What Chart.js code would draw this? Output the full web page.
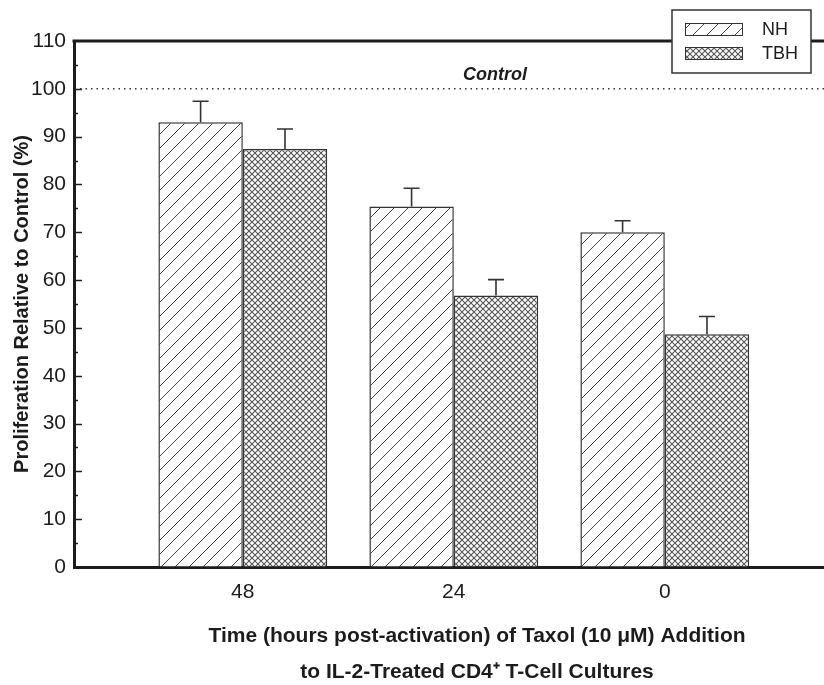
<!DOCTYPE html>
<html>
<head>
<meta charset="utf-8">
<title>Proliferation relative to control</title>
<script src="https://cdn.jsdelivr.net/npm/chart.js@4.4.0/dist/chart.umd.min.js"></script>
<style>
  html, body { margin: 0; padding: 0; background: #fff; overflow: hidden; }
  #wrap { width: 824px; height: 685px; overflow: hidden; }
</style>
</head>
<body>
<div id="wrap"><canvas id="chart" width="900" height="685"></canvas></div>
<script>
// Time (hours post-activation) of Taxol addition
const timepoints = ['48', '24', '0'];
// Proliferation relative to control (%), mean and upper error
const nhValues = [93.0, 75.4, 70.0];
const nhErrors = [4.4, 3.8, 2.4];
const tbhValues = [87.4, 56.8, 48.7];
const tbhErrors = [4.2, 3.3, 3.7];
const seriesNames = ['NH', 'TBH'];
const yTickValues = [0, 10, 20, 30, 40, 50, 60, 70, 80, 90, 100, 110];
const controlLevel = 100;

const FONT = "'Liberation Sans', Arial, Helvetica, sans-serif";
const INK = '#1c1c1c';

const canvas = document.getElementById('chart');
const ctx = canvas.getContext('2d');

// hatch fills
function makePattern(size, draw) {
    const c = document.createElement('canvas');
    c.width = size;
    c.height = size;
    const g = c.getContext('2d');
    g.fillStyle = '#fff';
    g.fillRect(0, 0, size, size);
    draw(g, size);
    return ctx.createPattern(c, 'repeat');
}

const diagonal = makePattern(14, function (g, s) {
    g.strokeStyle = '#444';
    g.lineWidth = 1;
    g.beginPath();
    g.moveTo(0, s); g.lineTo(s, 0);
    g.moveTo(-2, 2); g.lineTo(2, -2);
    g.moveTo(s - 2, s + 2); g.lineTo(s + 2, s - 2);
    g.stroke();
});

const crosshatch = makePattern(6, function (g, s) {
    g.strokeStyle = '#555';
    g.lineWidth = 1.1;
    g.beginPath();
    g.moveTo(0, 0); g.lineTo(s, s);
    g.moveTo(0, s); g.lineTo(s, 0);
    g.stroke();
});

const fills = [diagonal, crosshatch];

// error bars, inward ticks, control line, top frame and legend box
const decorations = {
    id: 'decorations',
    afterDatasetsDraw(chart) {
        const c = chart.ctx;
        const y = chart.scales.y;
        const area = chart.chartArea;
        c.save();

        // upper error bars
        c.strokeStyle = '#333';
        c.lineWidth = 1.6;
        [[nhValues, nhErrors], [tbhValues, tbhErrors]].forEach(function (pair, d) {
            chart.getDatasetMeta(d).data.forEach(function (bar, i) {
                const top = y.getPixelForValue(pair[0][i] + pair[1][i]);
                c.beginPath();
                c.moveTo(bar.x, bar.y);
                c.lineTo(bar.x, top);
                c.moveTo(bar.x - 8, top);
                c.lineTo(bar.x + 8, top);
                c.stroke();
            });
        });

        // inward y ticks (major every 10, minor every 5)
        c.strokeStyle = INK;
        c.lineWidth = 1.5;
        for (let v = 5; v < 110; v += 5) {
            const py = Math.round(y.getPixelForValue(v)) + 0.5;
            const len = v % 10 === 0 ? 8 : 4;
            c.beginPath();
            c.moveTo(area.left, py);
            c.lineTo(area.left + len, py);
            c.stroke();
        }

        // dotted control line
        const cy = y.getPixelForValue(controlLevel);
        c.strokeStyle = '#333';
        c.lineWidth = 1.5;
        c.setLineDash([1.5, 4]);
        c.beginPath();
        c.moveTo(area.left + 6, cy);
        c.lineTo(chart.width, cy);
        c.stroke();
        c.setLineDash([]);

        c.fillStyle = INK;
        c.font = 'italic bold 18px ' + FONT;
        c.textAlign = 'center';
        c.textBaseline = 'alphabetic';
        c.fillText('Control', area.left + 421, cy - 9);

        // top frame line
        c.strokeStyle = INK;
        c.lineWidth = 3;
        c.beginPath();
        c.moveTo(area.left - 1.5, area.top);
        c.lineTo(chart.width, area.top);
        c.stroke();

        // legend box
        const lx = 672, ly = 10, lw = 139, lh = 63;
        c.fillStyle = '#fff';
        c.fillRect(lx, ly, lw, lh);
        c.strokeStyle = '#333';
        c.lineWidth = 1.5;
        c.strokeRect(lx, ly, lw, lh);
        seriesNames.forEach(function (name, i) {
            const sy = ly + 13 + i * 24;
            c.fillStyle = fills[i];
            c.fillRect(lx + 13, sy, 58, 12);
            c.strokeStyle = '#333';
            c.lineWidth = 1;
            c.strokeRect(lx + 13.5, sy + 0.5, 57, 12);
            c.fillStyle = INK;
            c.font = '18px ' + FONT;
            c.textAlign = 'left';
            c.textBaseline = 'middle';
            c.fillText(name, lx + 90, sy + 7);
        });

        c.restore();
    }
};

new Chart(canvas, {
    type: 'bar',
    data: {
        datasets: [
            {
                label: seriesNames[0],
                data: nhValues.map(function (v, i) { return { x: i, y: v }; }),
                backgroundColor: diagonal,
                borderColor: '#333',
                borderWidth: 1.5
            },
            {
                label: seriesNames[1],
                data: tbhValues.map(function (v, i) { return { x: i, y: v }; }),
                backgroundColor: crosshatch,
                borderColor: '#333',
                borderWidth: 1.5
            }
        ]
    },
    options: {
        responsive: false,
        animation: false,
        events: [],
        categoryPercentage: 0.8,
        barPercentage: 1.0,
        layout: { padding: { left: 0, top: 41, right: 20, bottom: 0 } },
        plugins: {
            legend: { display: false },
            tooltip: { enabled: false }
        },
        scales: {
            x: {
                type: 'linear',
                min: -0.8,
                max: 3.02,
                offset: false,
                afterFit: function (scale) { scale.height = 118; },
                afterBuildTicks: function (scale) {
                    scale.ticks = timepoints.map(function (t, i) { return { value: i }; });
                },
                grid: { display: false, drawTicks: false },
                border: { display: true, color: INK, width: 3 },
                ticks: {
                    padding: 13,
                    color: INK,
                    font: { family: FONT, size: 21 },
                    callback: function (value) { return timepoints[value]; }
                },
                title: {
                    display: true,
                    text: ['Time (hours post-activation) of Taxol (10 \u03bcM) Addition',
                           'to IL-2-Treated CD4\u207a T-Cell Cultures'],
                    color: INK,
                    font: { family: FONT, size: 21, weight: 'bold', lineHeight: '36px' },
                    padding: { top: 0, bottom: -5 }
                }
            },
            y: {
                min: 0,
                max: 110,
                afterFit: function (scale) { scale.width = 74; },
                afterBuildTicks: function (scale) {
                    scale.ticks = yTickValues.map(function (v) { return { value: v }; });
                },
                grid: { drawOnChartArea: false, drawTicks: false },
                border: { display: true, color: INK, width: 3 },
                ticks: {
                    padding: 8,
                    color: INK,
                    font: { family: FONT, size: 21 }
                },
                title: {
                    display: true,
                    text: 'Proliferation Relative to Control (%)',
                    color: INK,
                    font: { family: FONT, size: 20, weight: 'bold' },
                    padding: { top: 10, bottom: 0 }
                }
            }
        }
    },
    plugins: [decorations]
});
</script>
</body>
</html>
